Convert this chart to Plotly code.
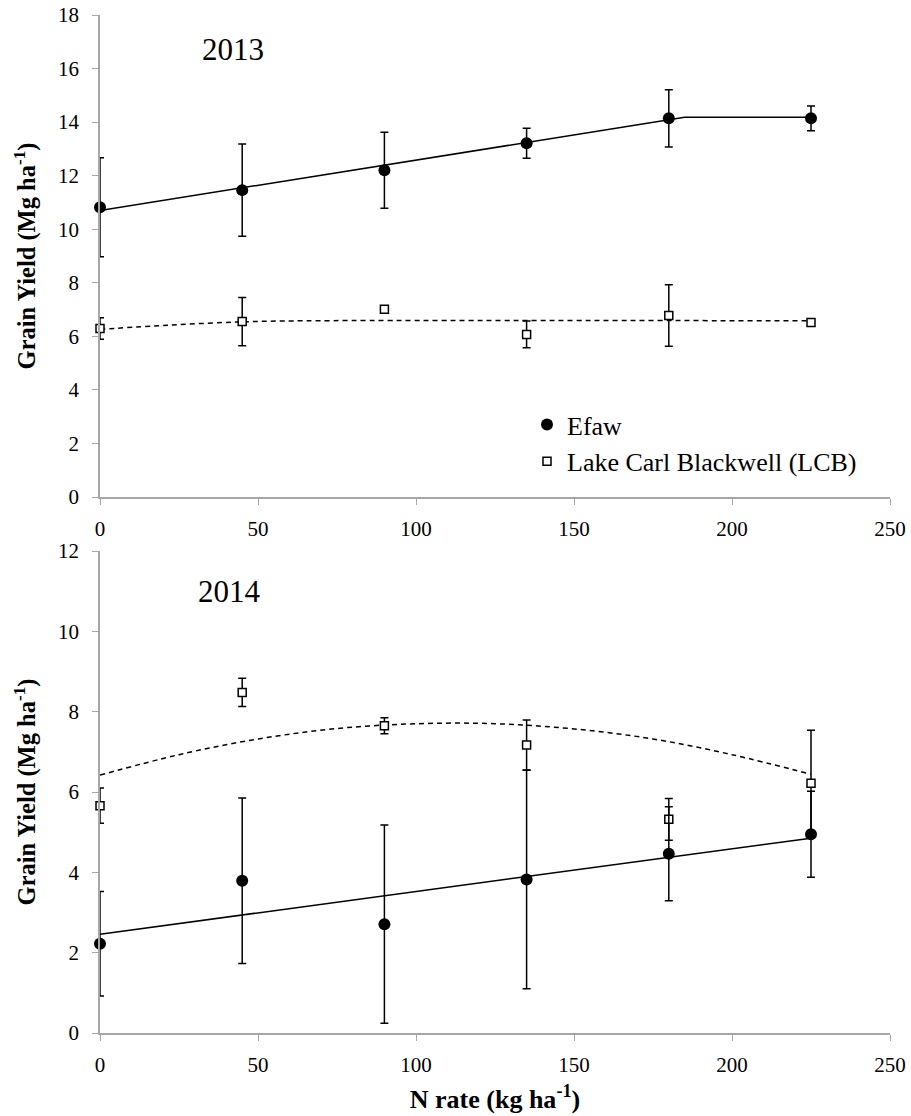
import plotly.graph_objects as go
from plotly.subplots import make_subplots

# ---- data ----
n_rate = [0, 45, 90, 135, 180, 225]

efaw_2013 = [10.82, 11.46, 12.20, 13.21, 14.14, 14.14]
efaw_2013_err = [1.85, 1.72, 1.42, 0.56, 1.07, 0.46]
lcb_2013 = [6.29, 6.55, 7.01, 6.07, 6.78, 6.52]
lcb_2013_err = [0.40, 0.90, 0.0, 0.50, 1.15, 0.0]

efaw_2014 = [2.22, 3.79, 2.71, 3.82, 4.46, 4.95]
efaw_2014_err = [1.30, 2.06, 2.47, 2.72, 1.17, 1.07]
lcb_2014 = [5.66, 8.48, 7.65, 7.17, 5.32, 6.22]
lcb_2014_err = [0.44, 0.35, 0.20, 0.62, 0.52, 1.32]

# fitted lines
fit_efaw_2013_x = [0, 185, 225]
fit_efaw_2013_y = [10.70, 14.18, 14.18]
fit_lcb_2013_x = [0, 22, 45, 65, 225]
fit_lcb_2013_y = [6.26, 6.42, 6.54, 6.58, 6.58]
fit_efaw_2014_x = [0, 225]
fit_efaw_2014_y = [2.46, 4.85]
fit_lcb_2014_x = [0, 25, 50, 75, 100, 125, 150, 175, 200, 225]
fit_lcb_2014_y = [6.42, 6.93, 7.32, 7.58, 7.70, 7.70, 7.57, 7.32, 6.93, 6.44]

x_ticks = [0, 50, 100, 150, 200, 250]

FONT = "Liberation Serif, Times New Roman, serif"
AXIS_GRAY = "#a6a6a6"

fig = make_subplots(rows=2, cols=1)

def add_panel(row, efaw, efaw_err, lcb, lcb_err, fx1, fy1, fx2, fy2, legend):
    fig.add_trace(go.Scatter(x=fx1, y=fy1, mode="lines", line=dict(color="black", width=1.5),
                             showlegend=False, hoverinfo="skip"), row=row, col=1)
    fig.add_trace(go.Scatter(x=fx2, y=fy2, mode="lines", line=dict(color="black", width=1.5, dash="5px,4px"),
                             line_shape="spline", showlegend=False, hoverinfo="skip"), row=row, col=1)
    fig.add_trace(go.Scatter(x=n_rate, y=lcb, mode="markers", name="Lake Carl Blackwell (LCB)",
                             marker=dict(symbol="square", size=8, color="white",
                                         line=dict(color="black", width=1.5)),
                             error_y=dict(type="data", array=lcb_err, visible=True, color="black",
                                          thickness=1.5, width=4),
                             cliponaxis=False, showlegend=legend, legendrank=2), row=row, col=1)
    fig.add_trace(go.Scatter(x=n_rate, y=efaw, mode="markers", name="Efaw",
                             marker=dict(symbol="circle", size=12, color="black"),
                             error_y=dict(type="data", array=efaw_err, visible=True, color="black",
                                          thickness=1.5, width=4),
                             cliponaxis=False, showlegend=legend, legendrank=1), row=row, col=1)

add_panel(1, efaw_2013, efaw_2013_err, lcb_2013, lcb_2013_err,
          fit_efaw_2013_x, fit_efaw_2013_y, fit_lcb_2013_x, fit_lcb_2013_y, True)
add_panel(2, efaw_2014, efaw_2014_err, lcb_2014, lcb_2014_err,
          fit_efaw_2014_x, fit_efaw_2014_y, fit_lcb_2014_x, fit_lcb_2014_y, False)

# body margin is removed in the page (see post_script), so figure px == page px
W, H = 911, 1116
def px(v):
    return v / W
def py(v):
    return 1 - v / H

xdom = [px(100), px(890)]
fig.update_layout(
    width=W, height=H,
    margin=dict(l=0, r=0, t=0, b=0, autoexpand=False),
    paper_bgcolor="white", plot_bgcolor="white",
    font=dict(family=FONT, size=21, color="black"),
    legend=dict(x=px(527), y=py(401), xanchor="left", yanchor="top",
                font=dict(family=FONT, size=26, color="black"),
                bgcolor="rgba(0,0,0,0)", itemwidth=30, tracegroupgap=0, borderwidth=0),
    xaxis=dict(domain=xdom, anchor="y"),
    yaxis=dict(domain=[py(497), py(15)], anchor="x"),
    xaxis2=dict(domain=xdom, anchor="y2"),
    yaxis2=dict(domain=[py(1033), py(551)], anchor="x2"),
)

common_x = dict(range=[0, 250], tickvals=x_ticks, showline=True, linecolor=AXIS_GRAY, linewidth=1.5,
                ticks="outside", ticklen=6, tickcolor=AXIS_GRAY, tickwidth=1.2, showgrid=False,
                zeroline=False, automargin=False, ticklabelstandoff=6,
                tickfont=dict(family=FONT, size=21, color="black"))
fig.update_xaxes(**common_x)
fig.update_xaxes(title=dict(text="<b>N rate (kg ha<sup>-1</sup>)</b>",
                            font=dict(family=FONT, size=26, color="black"), standoff=14), row=2, col=1)

common_y = dict(showline=True, linecolor=AXIS_GRAY, linewidth=1.5, ticks="outside", ticklen=6,
                tickcolor=AXIS_GRAY, tickwidth=1.2, showgrid=False, zeroline=False, automargin=False,
                ticklabelstandoff=9, tickfont=dict(family=FONT, size=21, color="black"))
ytitle = dict(text="<b>Grain Yield (Mg ha<sup>-1</sup>)</b>", font=dict(family=FONT, size=24.5, color="black"),
              standoff=15)
fig.update_yaxes(range=[0, 18], tickvals=list(range(0, 19, 2)), title=ytitle, **common_y, row=1, col=1)
fig.update_yaxes(range=[0, 12], tickvals=list(range(0, 13, 2)), title=ytitle, **common_y, row=2, col=1)

fig.add_annotation(x=42, y=16.7, xref="x", yref="y", text="2013", showarrow=False,
                   font=dict(family=FONT, size=31, color="black"))
fig.add_annotation(x=41, y=10.98, xref="x2", yref="y2", text="2014", showarrow=False,
                   font=dict(family=FONT, size=31, color="black"))

fig.write_html("out.html", config={"displayModeBar": False},
               post_script="document.body.style.margin='0';document.body.style.overflow='hidden';")
